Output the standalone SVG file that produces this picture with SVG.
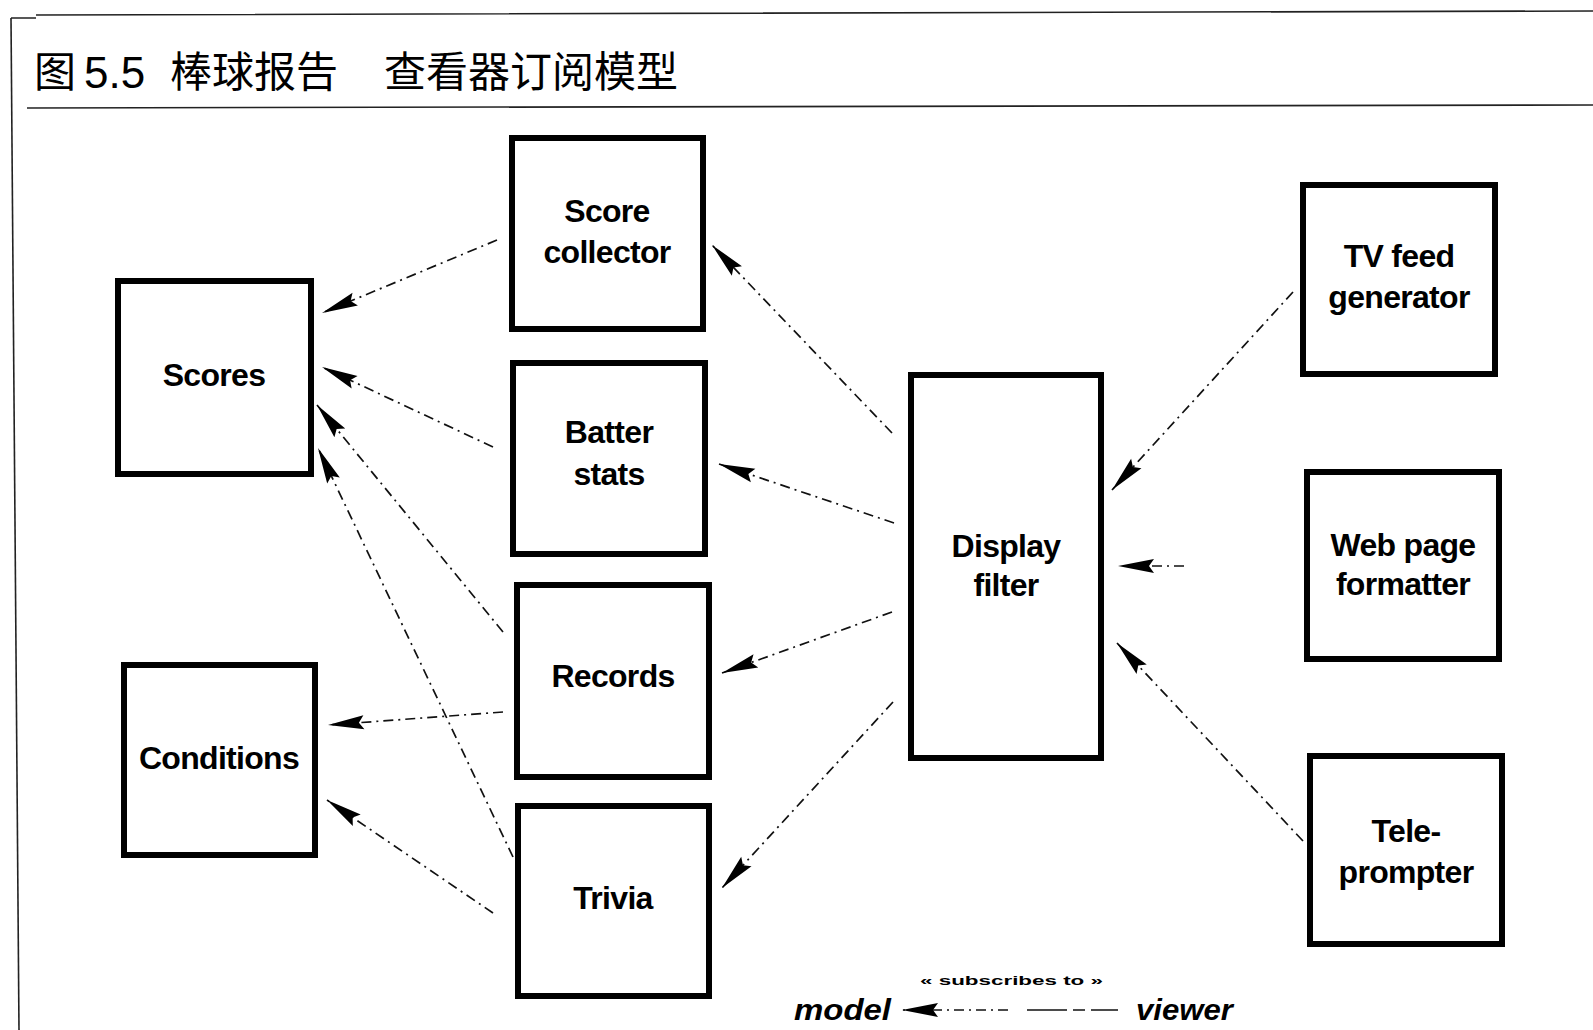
<svg xmlns="http://www.w3.org/2000/svg" width="1593" height="1030" viewBox="0 0 1593 1030">
<defs>
<style>
.box{fill:none;stroke:#000;stroke-width:6}
.lbl{font-family:"Liberation Sans",Arial,sans-serif;font-weight:bold;font-size:32px;letter-spacing:-0.7px;text-anchor:middle;fill:#000}
.con{fill:none;stroke:#111;stroke-width:1.7;stroke-dasharray:10 5 2 5}
.frame{fill:none;stroke:#222;stroke-width:1.6}
.title{font-family:"Noto Sans CJK SC","Noto Sans",sans-serif;font-size:42px;fill:#000}
.leg{font-family:"Liberation Sans",Arial,sans-serif;font-weight:bold;font-style:italic;font-size:30px;fill:#000}
</style>
<marker id="ah" markerUnits="userSpaceOnUse" markerWidth="40" markerHeight="18" viewBox="0 -9 38 18" refX="36" refY="0" orient="auto">
<path d="M0,-7 L36,0 L0,7 L5,0 Z" fill="#000"/>
</marker>
</defs>
<rect width="1593" height="1030" fill="#fff"/>

<g id="frame">
<path class="frame" d="M11,18 L36,18 M36,15 L1593,11"/>
<path class="frame" d="M11,18 L19,1030"/>
<path class="frame" stroke-width="2.2" d="M27,108 L1593,105"/>
</g>

<g id="title">
<text class="title" x="34" y="87">图</text>
<text x="84" y="88" font-family="'Liberation Sans',Arial,sans-serif" font-size="44" fill="#000">5.5</text>
<text class="title" x="170" y="87">棒球报告</text>
<text class="title" x="384" y="87">查看器订阅模型</text>
</g>

<g id="connectors">
<line class="con" x1="497" y1="240" x2="322" y2="313" marker-end="url(#ah)"/>
<line class="con" x1="493" y1="447" x2="322" y2="367" marker-end="url(#ah)"/>
<line class="con" x1="503" y1="632" x2="317" y2="405" marker-end="url(#ah)"/>
<line class="con" x1="513" y1="857" x2="318" y2="448" marker-end="url(#ah)"/>
<line class="con" x1="503" y1="712" x2="328" y2="725" marker-end="url(#ah)"/>
<line class="con" x1="493" y1="913" x2="327" y2="800" marker-end="url(#ah)"/>
<line class="con" x1="892" y1="433" x2="712" y2="245" marker-end="url(#ah)"/>
<line class="con" x1="894" y1="523" x2="719" y2="464" marker-end="url(#ah)"/>
<line class="con" x1="892" y1="612" x2="722" y2="673" marker-end="url(#ah)"/>
<line class="con" x1="893" y1="702" x2="722" y2="888" marker-end="url(#ah)"/>
<line class="con" x1="1293" y1="292" x2="1112" y2="490" marker-end="url(#ah)"/>
<line class="con" x1="1184" y1="566" x2="1118" y2="566" marker-end="url(#ah)"/>
<line class="con" x1="1303" y1="841" x2="1117" y2="643" marker-end="url(#ah)"/>
</g>

<g id="n-score-collector">
<rect class="box" x="512" y="138" width="191" height="191"/>
<text class="lbl" x="607" y="222">Score</text>
<text class="lbl" x="607" y="263">collector</text>
</g>
<g id="n-scores">
<rect class="box" x="118" y="281" width="193" height="193"/>
<text class="lbl" x="214" y="386">Scores</text>
</g>
<g id="n-batter-stats">
<rect class="box" x="513" y="363" width="192" height="191"/>
<text class="lbl" x="609" y="443">Batter</text>
<text class="lbl" x="609" y="485">stats</text>
</g>
<g id="n-records">
<rect class="box" x="517" y="585" width="192" height="192"/>
<text class="lbl" x="613" y="687">Records</text>
</g>
<g id="n-trivia">
<rect class="box" x="518" y="806" width="191" height="190"/>
<text class="lbl" x="613" y="909">Trivia</text>
</g>
<g id="n-conditions">
<rect class="box" x="124" y="665" width="191" height="190"/>
<text class="lbl" x="219" y="769">Conditions</text>
</g>
<g id="n-display-filter">
<rect class="box" x="911" y="375" width="190" height="383"/>
<text class="lbl" x="1006" y="557">Display</text>
<text class="lbl" x="1006" y="596">filter</text>
</g>
<g id="n-tv-feed">
<rect class="box" x="1303" y="185" width="192" height="189"/>
<text class="lbl" x="1399" y="267">TV feed</text>
<text class="lbl" x="1399" y="308">generator</text>
</g>
<g id="n-web-page">
<rect class="box" x="1307" y="472" width="192" height="187"/>
<text class="lbl" x="1403" y="556">Web page</text>
<text class="lbl" x="1403" y="595">formatter</text>
</g>
<g id="n-teleprompter">
<rect class="box" x="1310" y="756" width="192" height="188"/>
<text class="lbl" x="1406" y="842">Tele-</text>
<text class="lbl" x="1406" y="883">prompter</text>
</g>

<g id="legend">
<text x="920" y="985" font-family="'Liberation Sans',Arial,sans-serif" font-weight="bold" font-size="13" textLength="183" lengthAdjust="spacingAndGlyphs" fill="#000">« subscribes to »</text>
<text class="leg" x="794" y="1020" textLength="97" lengthAdjust="spacingAndGlyphs">model</text>
<line class="con" x1="1008" y1="1010" x2="902" y2="1010" marker-end="url(#ah)"/>
<line fill="none" stroke="#111" stroke-width="1.7" stroke-dasharray="40 6 12 6" x1="1027" y1="1010" x2="1118" y2="1010"/>
<text class="leg" x="1136" y="1020" textLength="97" lengthAdjust="spacingAndGlyphs">viewer</text>
</g>
</svg>
